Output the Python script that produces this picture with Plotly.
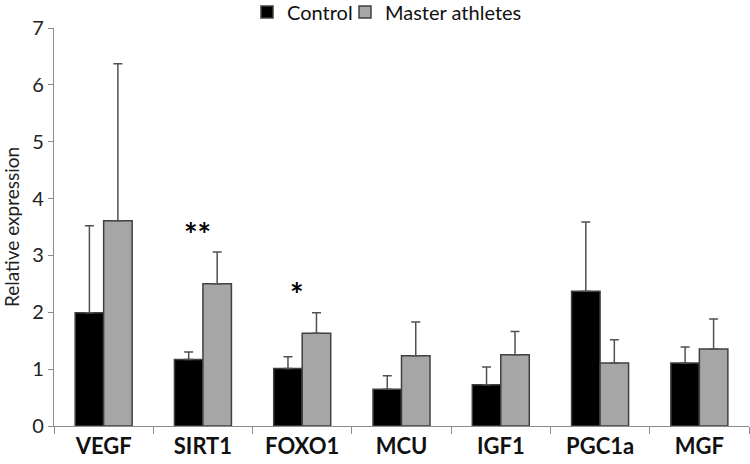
import plotly.graph_objects as go

categories = ["VEGF", "SIRT1", "FOXO1", "MCU", "IGF1", "PGC1a", "MGF"]
control = [1.99, 1.17, 1.01, 0.645, 0.727, 2.37, 1.108]
control_err = [1.53, 0.13, 0.21, 0.24, 0.31, 1.22, 0.28]
athletes = [3.61, 2.50, 1.63, 1.237, 1.254, 1.108, 1.354]
athletes_err = [2.76, 0.56, 0.36, 0.59, 0.41, 0.41, 0.53]
sig_labels = ["", "**", "*", "", "", "", ""]
sig_y = [None, 3.36, 2.32, None, None, None, None]

FONT = "Lato, Carlito, Calibri, sans-serif"
edge = "#404040"
errc = "#505050"

fig = go.Figure()
fig.add_trace(go.Bar(
    x=categories, y=control, name="Control", legend="legend",
    marker=dict(color="#000000", line=dict(color=edge, width=1.5)),
    error_y=dict(type="data", array=control_err, arrayminus=[0]*len(control_err),
                 symmetric=False, color=errc, thickness=1.5, width=4.5),
))
fig.add_trace(go.Bar(
    x=categories, y=athletes, name="Master athletes", legend="legend2",
    marker=dict(color="#a6a6a6", line=dict(color=edge, width=1.5)),
    error_y=dict(type="data", array=athletes_err, arrayminus=[0]*len(athletes_err),
                 symmetric=False, color=errc, thickness=1.5, width=4.5),
))

for c, s, yv in zip(categories, sig_labels, sig_y):
    if s:
        fig.add_annotation(x=c, y=yv, text="<b>" + s + "</b>", showarrow=False,
                           xshift=-5, font=dict(family=FONT, size=32, color="black"))

leg_common = dict(orientation="h", xanchor="left", y=1.04, yanchor="middle",
                  font=dict(family=FONT, size=20, color="#111111"),
                  itemwidth=30, tracegroupgap=0, bgcolor="rgba(0,0,0,0)")

fig.update_layout(
    width=750, height=464,
    margin=dict(l=54, r=1, t=28, b=38, autoexpand=False),
    paper_bgcolor="white", plot_bgcolor="white",
    barmode="group", bargap=0.426, bargroupgap=0,
    font=dict(family=FONT, color="#222222"),
    showlegend=True,
    legend=dict(x=0.2777, **leg_common),
    legend2=dict(x=0.4187, **leg_common),
    xaxis=dict(showline=True, linecolor="#8c8c8c", linewidth=1.2,
               ticks="outside", tickson="boundaries", ticklen=7, tickcolor="#8c8c8c",
               tickfont=dict(family=FONT, size=22, color="#111111", weight="bold"),
               showgrid=False, zeroline=False),
    yaxis=dict(range=[0, 7], dtick=1, showline=True, linecolor="#8c8c8c", linewidth=1.2,
               ticks="outside", ticklen=5, tickcolor="#8c8c8c",
               tickfont=dict(family=FONT, size=20, color="#222222"),
               showgrid=False, zeroline=False,
               title=dict(text="Relative expression", standoff=8,
                          font=dict(family=FONT, size=19, color="#222222"))),
)

fig.write_html("out.html", config={"displayModeBar": False},
               post_script="document.body.style.margin='0';document.body.style.overflow='hidden';")
